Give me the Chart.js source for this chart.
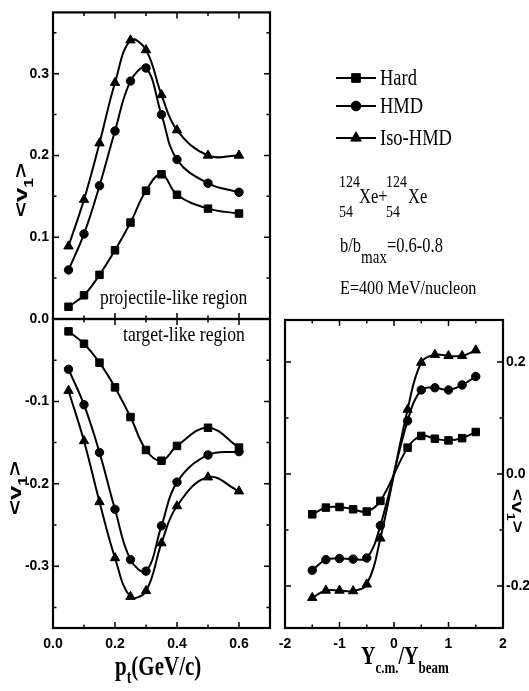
<!DOCTYPE html>
<html lang="en">
<head>
<meta charset="UTF-8" />
<title>Directed flow v1 - Xe+Xe</title>
<script src="https://cdn.jsdelivr.net/npm/chart.js"></script>
<style>
  body { margin: 0; background: #fff; }
  #wrap { position: relative; width: 529px; height: 691px; }
  #wrap canvas { position: absolute; left: 0; top: 0; }
</style>
</head>
<body>
<div id="wrap">
  <canvas id="c-proj" width="529" height="691"></canvas>
  <canvas id="c-targ" width="529" height="691"></canvas>
  <canvas id="c-rap" width="529" height="691"></canvas>
</div>
<script>
// transverse momentum points (GeV/c)
const ptVals = [0.05, 0.1, 0.15, 0.2, 0.25, 0.3, 0.35, 0.4, 0.5, 0.6];
// projectile-like region
const projHard = [0.015, 0.029, 0.054, 0.084, 0.118, 0.157, 0.177, 0.152, 0.135, 0.129];
const projHMD  = [0.060, 0.104, 0.163, 0.230, 0.291, 0.307, 0.250, 0.195, 0.166, 0.155];
const projIso  = [0.089, 0.146, 0.215, 0.289, 0.341, 0.329, 0.274, 0.231, 0.200, 0.200];
// target-like region
const targHard = [-0.015, -0.030, -0.053, -0.083, -0.119, -0.159, -0.172, -0.154, -0.132, -0.156];
const targHMD  = [-0.061, -0.104, -0.162, -0.231, -0.292, -0.306, -0.251, -0.198, -0.165, -0.161];
const targIso  = [-0.087, -0.148, -0.222, -0.290, -0.337, -0.330, -0.272, -0.227, -0.192, -0.209];
// rapidity Ycm/Ybeam
const rapVals = [-1.5, -1.25, -1, -0.75, -0.5, -0.25, 0.25, 0.5, 0.75, 1, 1.25, 1.5];
const rapHard = [-0.072, -0.060, -0.059, -0.063, -0.067, -0.048, 0.047, 0.068, 0.063, 0.060, 0.064, 0.075];
const rapHMD  = [-0.172, -0.153, -0.151, -0.152, -0.150, -0.092, 0.095, 0.150, 0.154, 0.150, 0.159, 0.174];
const rapIso  = [-0.221, -0.208, -0.208, -0.209, -0.197, -0.115, 0.115, 0.199, 0.213, 0.211, 0.211, 0.221];

const seriesNames = ['Hard', 'HMD', 'Iso-HMD'];
const pointStyles = ['rect', 'circle', 'triangle'];
const pointSizes = [5.3, 4.2, 5.4];

const SANS = '"Liberation Sans", Arial, sans-serif';
const SERIF = '"Liberation Serif", "Times New Roman", serif';
const tickFont = { family: SANS, size: 14, weight: 'bold' };

function makeDatasets(series, xs) {
  return seriesNames.map((name, i) => ({
    label: name,
    data: xs.map((x, k) => ({ x: x, y: series[i][k] })),
    borderColor: '#000',
    backgroundColor: '#000',
    borderWidth: 2,
    tension: 0.4,
    pointStyle: pointStyles[i],
    pointRadius: pointSizes[i],
    pointBorderWidth: 1,
    pointBackgroundColor: '#000',
    pointBorderColor: '#000'
  }));
}

function fmt1(v) {
  if (Math.abs(v) < 1e-9) return '0.0';
  return v.toFixed(1);
}

// text with pieces in different fonts / offsets, optional rotation and stretch
function richText(ctx, parts, x, y, opt) {
  opt = opt || {};
  ctx.save();
  ctx.translate(x, y);
  if (opt.rot) ctx.rotate(opt.rot);
  ctx.scale(opt.sx || 1, opt.sy || 1);
  ctx.fillStyle = '#000';
  ctx.textBaseline = opt.baseline || 'alphabetic';
  ctx.textAlign = 'left';
  let w = 0;
  parts.forEach(p => { ctx.font = p[1]; w += ctx.measureText(p[0]).width; });
  let cx = opt.align === 'center' ? -w / 2 : 0;
  parts.forEach(p => {
    ctx.font = p[1];
    ctx.fillText(p[0], cx, p[2] || 0);
    cx += ctx.measureText(p[0]).width;
  });
  ctx.restore();
}

// box round the plot and inward ticks on all four sides
function frameTicks(xMinor, xMajor, yMinor, yMajor) {
  return {
    id: 'frameTicks',
    afterDatasetsDraw(chart) {
      const ctx = chart.ctx, a = chart.chartArea;
      const sx = chart.scales.x, sy = chart.scales.y;
      const isMajor = (v, m) => Math.abs(v / m - Math.round(v / m)) < 1e-6;
      ctx.save();
      ctx.strokeStyle = '#000';
      ctx.lineWidth = 1.5;
      ctx.beginPath();
      for (let i = Math.ceil(sx.min / xMinor - 1e-6); i * xMinor <= sx.max + 1e-9; i++) {
        const v = i * xMinor, px = sx.getPixelForValue(v);
        const len = isMajor(v, xMajor) ? 6 : 3.5;
        ctx.moveTo(px, a.bottom); ctx.lineTo(px, a.bottom - len);
        ctx.moveTo(px, a.top); ctx.lineTo(px, a.top + len);
      }
      for (let i = Math.ceil(sy.min / yMinor - 1e-6); i * yMinor <= sy.max + 1e-9; i++) {
        const v = i * yMinor, py = sy.getPixelForValue(v);
        const len = isMajor(v, yMajor) ? 6 : 3.5;
        ctx.moveTo(a.left, py); ctx.lineTo(a.left + len, py);
        ctx.moveTo(a.right, py); ctx.lineTo(a.right - len, py);
      }
      ctx.stroke();
      ctx.lineWidth = 2.2;
      ctx.strokeRect(a.left, a.top, a.right - a.left, a.bottom - a.top);
      ctx.restore();
    }
  };
}

function textLayer(id, draw) {
  return { id: id, afterDraw(chart) { draw(chart.ctx); } };
}

function drawMarker(ctx, style, r, x, y) {
  if (Chart.helpers && Chart.helpers.drawPoint) {
    ctx.fillStyle = '#000';
    ctx.strokeStyle = '#000';
    ctx.lineWidth = 1;
    Chart.helpers.drawPoint(ctx, { pointStyle: style, radius: r, borderWidth: 1, rotation: 0 }, x, y);
  } else {
    ctx.beginPath(); ctx.arc(x, y, r, 0, Math.PI * 2); ctx.fill();
  }
}

function hiddenAxis() {
  return {
    type: 'linear', min: 0, max: 0.7,
    grid: { display: false, drawTicks: false }, border: { display: false },
    ticks: { display: false },
    afterFit: s => { s.height = 0; }
  };
}

const base = {
  responsive: false,
  animation: false,
  devicePixelRatio: 1,
  events: [],
  plugins: { legend: { display: false }, tooltip: { enabled: false } }
};

const serifSY = 1.22;

// ---- top left: projectile-like ----
new Chart(document.getElementById('c-proj'), {
  type: 'line',
  data: { datasets: makeDatasets([projHard, projHMD, projIso], ptVals) },
  options: Object.assign({}, base, {
    layout: { autoPadding: false, padding: { left: 0, top: 10, right: 259, bottom: 691 - 319 } },
    scales: {
      x: hiddenAxis(),
      y: {
        min: 0, max: 0.375,
        grid: { display: false, drawTicks: false }, border: { display: false },
        ticks: { stepSize: 0.1, includeBounds: false, font: tickFont, color: '#000', padding: 4, callback: fmt1 },
        afterFit: s => { s.width = 53; }
      }
    }
  }),
  plugins: [frameTicks(0.1, 0.2, 0.05, 0.1), textLayer('projText', ctx => {
    richText(ctx, [['projectile-like region', '17.5px ' + SERIF]], 100, 304, { sy: serifSY });
    richText(ctx, [['<', 'bold 19px ' + SANS], ['v', 'bold 19px ' + SANS], ['1', 'bold 13px ' + SANS, 7], ['>', 'bold 19px ' + SANS]],
      22, 190, { rot: -Math.PI / 2, sx: 1.35, align: 'center', baseline: 'middle' });

    // legend
    const rows = [78, 106, 138];
    seriesNames.forEach((name, i) => {
      ctx.save();
      ctx.strokeStyle = '#000';
      ctx.lineWidth = 2;
      ctx.beginPath(); ctx.moveTo(336, rows[i]); ctx.lineTo(376, rows[i]); ctx.stroke();
      drawMarker(ctx, pointStyles[i], pointSizes[i] * 1.15, 356, rows[i]);
      ctx.restore();
      richText(ctx, [[name, '18.5px ' + SERIF]], 380, rows[i] + 7, { sy: serifSY });
    });

    // reaction system
    const nf = '14px ' + SERIF, xf = '16.5px ' + SERIF;
    richText(ctx, [['124', nf]], 339, 187, { sy: serifSY });
    richText(ctx, [['54', nf]], 339, 217, { sy: serifSY });
    richText(ctx, [['Xe+', xf]], 359, 203, { sy: serifSY });
    richText(ctx, [['124', nf]], 386, 187, { sy: serifSY });
    richText(ctx, [['54', nf]], 386, 217, { sy: serifSY });
    richText(ctx, [['Xe', xf]], 408, 203, { sy: serifSY });
    richText(ctx, [['b/b', xf], ['max', '15px ' + SERIF, 9], ['=0.6-0.8', xf]], 340, 252, { sy: serifSY });
    richText(ctx, [['E=400 MeV/nucleon', '16.2px ' + SERIF]], 340, 294, { sy: serifSY });
  })]
});

// ---- bottom left: target-like ----
new Chart(document.getElementById('c-targ'), {
  type: 'line',
  data: { datasets: makeDatasets([targHard, targHMD, targIso], ptVals) },
  options: Object.assign({}, base, {
    layout: { autoPadding: false, padding: { left: 0, top: 319, right: 259, bottom: 0 } },
    scales: {
      x: {
        type: 'linear', min: 0, max: 0.7,
        grid: { display: false, drawTicks: false }, border: { display: false },
        ticks: { stepSize: 0.2, includeBounds: false, font: tickFont, color: '#000', padding: 8, maxRotation: 0, callback: fmt1 },
        afterFit: s => { s.height = 63; }
      },
      y: {
        min: -0.375, max: 0,
        grid: { display: false, drawTicks: false }, border: { display: false },
        ticks: { stepSize: 0.1, includeBounds: false, font: tickFont, color: '#000', padding: 4,
          callback: v => (Math.abs(v) < 1e-9 ? '' : fmt1(v)) },
        afterFit: s => { s.width = 53; }
      }
    }
  }),
  plugins: [frameTicks(0.1, 0.2, 0.05, 0.1), textLayer('targText', ctx => {
    richText(ctx, [['target-like region', '17.7px ' + SERIF]], 123, 341, { sy: serifSY });
    richText(ctx, [['<', 'bold 19px ' + SANS], ['v', 'bold 19px ' + SANS], ['1', 'bold 13px ' + SANS, 7], ['>', 'bold 19px ' + SANS]],
      16, 488, { rot: -Math.PI / 2, sx: 1.35, align: 'center', baseline: 'middle' });
    richText(ctx, [['p', 'bold 21px ' + SERIF], ['t', 'bold 14px ' + SERIF, 6], ['(GeV/c)', 'bold 21px ' + SERIF]],
      115, 675, { sy: 1.3 });
  })]
});

// ---- bottom right: rapidity ----
new Chart(document.getElementById('c-rap'), {
  type: 'line',
  data: { datasets: makeDatasets([rapHard, rapHMD, rapIso], rapVals) },
  options: Object.assign({}, base, {
    layout: { autoPadding: false, padding: { left: 285, top: 320, right: 0, bottom: 0 } },
    scales: {
      x: {
        type: 'linear', min: -2, max: 2,
        grid: { display: false, drawTicks: false }, border: { display: false },
        ticks: { stepSize: 1, includeBounds: false, font: tickFont, color: '#000', padding: 8, maxRotation: 0,
          callback: v => String(Math.round(v)) },
        afterFit: s => { s.height = 63; }
      },
      y: {
        position: 'right',
        min: -0.275, max: 0.275,
        grid: { display: false, drawTicks: false }, border: { display: false },
        ticks: { stepSize: 0.2, includeBounds: false, font: tickFont, color: '#000', padding: 3, callback: fmt1 },
        afterFit: s => { s.width = 26; }
      }
    }
  }),
  plugins: [frameTicks(0.5, 1, 0.1, 0.2), textLayer('rapText', ctx => {
    richText(ctx, [['<', 'bold 16px ' + SANS], ['v', 'bold 16px ' + SANS], ['1', 'bold 11px ' + SANS, 6], ['>', 'bold 16px ' + SANS]],
      516, 511, { rot: Math.PI / 2, sx: 1.3, align: 'center', baseline: 'middle' });
    richText(ctx, [['Y', 'bold 20px ' + SERIF], ['c.m.', 'bold 13px ' + SERIF, 7], ['/Y', 'bold 20px ' + SERIF], ['beam', 'bold 13px ' + SERIF, 7]],
      361, 664, { sy: 1.3 });
  })]
});
</script>
</body>
</html>
